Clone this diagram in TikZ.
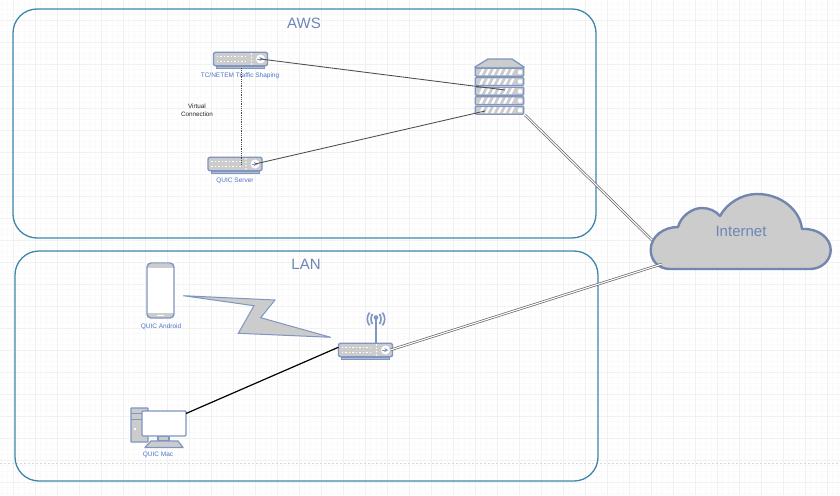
\documentclass[tikz,border=0pt]{standalone}
\usepackage{fontspec}
\setmainfont{Liberation Sans}
\definecolor{gridmajor}{HTML}{F1F1F1}
\definecolor{gridminor}{HTML}{FAFAFA}
\definecolor{boxline}{HTML}{3F86AC}
\definecolor{iconline}{HTML}{7F95C2}
\definecolor{iconfill}{HTML}{CCCCCC}
\definecolor{labelblue}{HTML}{4F74C8}
\definecolor{titleblue}{HTML}{6C86B8}
\tikzset{
    zonebox/.style={draw=boxline, line width=1.3pt, rounded corners=24pt},
    zonetitle/.style={text=titleblue, font=\fontsize{15}{15}\selectfont, inner sep=0pt},
    iconlabel/.style={text=labelblue, font=\fontsize{6.5}{6.5}\selectfont, inner sep=0pt},
    iconpart/.style={draw=iconline, fill=iconfill, line width=1.4pt, line join=round},
    switchbody/.style={iconpart, rectangle, rounded corners=2pt, minimum width=54pt, minimum height=13.5pt, inner sep=0pt},
    thinlink/.style={draw=black!70, line width=0.85pt},
    doublelink/.style={draw=black!60, line width=0.7pt, double=white, double distance=1.1pt}
}
% one rack switch: name, x, y of its centre
\newcommand{\switchbox}[3]{
    \fill[iconfill!70!iconline, draw=iconline, line width=0.8pt] (#2-24,#3+7) rectangle (#2+24,#3+9.5);
    \node[switchbody] (#1) at (#2,#3) {};
    \foreach \dotx in {-23,-19.5,...,8} {
        \fill[white] (#2+\dotx-0.9,#3-3.4) rectangle (#2+\dotx+0.9,#3-1.8);
        \fill[white] (#2+\dotx-0.9,#3+1.8) rectangle (#2+\dotx+0.9,#3+3.4);
    }
    \fill[white] (#2+11,#3-5) circle (0.8) (#2+11,#3-1.7) circle (0.8) (#2+11,#3+1.7) circle (0.8) (#2+11,#3+5) circle (0.8);
    \node[circle, fill=white, inner sep=0pt, minimum size=9pt] (#1port) at (#2+20,#3) {};
    \draw[iconline, line width=0.9pt, ->, >=stealth] (#2+16.5,#3) -- (#2+23,#3);
}
\begin{document}
\begin{tikzpicture}[x=1pt,y=-1pt]
    \useasboundingbox (0,0) rectangle (840,495);
    \fill[white] (0,0) rectangle (840,495);

    % paper grid
    \foreach \gx in {2,7.5,...,840} \draw[gridminor, line width=0.5pt] (\gx,0) -- (\gx,495);
    \foreach \gy in {3.5,9,...,495} \draw[gridminor, line width=0.5pt] (0,\gy) -- (840,\gy);
    \foreach \gx in {13.5,35.5,...,840} \draw[gridmajor, line width=0.7pt] (\gx,0) -- (\gx,495);
    \foreach \gy in {20,42,...,495} \draw[gridmajor, line width=0.7pt] (0,\gy) -- (840,\gy);
    \draw[black!15, line width=0.5pt, dash pattern=on 2pt off 2pt] (0,463.3) -- (840,463.3);

    % zones
    \node[zonebox, rectangle, minimum width=583pt, minimum height=229pt, inner sep=0pt] (aws) at (304.5,123.5) {};
    \node[zonebox, rectangle, minimum width=583pt, minimum height=230pt, inner sep=0pt] (lan) at (306.5,366) {};
    \node[zonetitle] (awstitle) at (304,23) {AWS};
    \node[zonetitle] (lantitle) at (306,264) {LAN};

    % traffic shaper and quic server
    \switchbox{shaper}{240.5}{59}
    \switchbox{quicserver}{235}{164}
    \node[iconlabel] (shaperlabel) at (240,76) {TC/NETEM Traffic Shaping};
    \node[iconlabel] (quicserverlabel) at (235,181) {QUIC Server};
    \node[iconlabel, text=black!85, align=center, font=\fontsize{6.3}{8}\selectfont] (virtuallabel) at (197,110) {Virtual\\Connection};

    % server rack
    \fill[iconfill, draw=iconline, line width=1.3pt, line join=round] (488,59) -- (512,59) -- (524,67) -- (524,68) -- (475,68) -- (475,67) -- cycle;
    \foreach \rowname/\rowy in {rowa/72.2,rowb/81.5,rowc/91.2,rowd/100.7,rowe/110.2} {
        \node[iconpart, rectangle, rounded corners=1pt, minimum width=48.5pt, minimum height=8pt, inner sep=0pt] (\rowname) at (499.5,\rowy) {};
        \foreach \sx in {479,485,...,509}
            \fill[white] (\sx,\rowy+3) -- (\sx+2.5,\rowy+3) -- (\sx+5.5,\rowy-3) -- (\sx+3,\rowy-3) -- cycle;
        \fill[white] (520,\rowy) circle (2.2);
    }
    \coordinate (rackupper) at (505,90);
    \coordinate (racklower) at (485,111);
    \coordinate (rackcorner) at (525,115);

    % cloud
    \draw[fill=iconfill, draw=iconline!90!black, line width=2.4pt, line join=round] (670,269) .. controls (658,269) and (650.7,260) .. (650.7,250) .. controls (650.7,236) and (664,227) .. (678,227) .. controls (681,216) and (692,208) .. (702,208) .. controls (709,208) and (716,211) .. (720,216) .. controls (727,203) and (742,194) .. (757,194) .. controls (781,194) and (800,210) .. (802,229) .. controls (818,228) and (830.7,238) .. (830.7,250) .. controls (830.7,261) and (821,269) .. (810,269) -- cycle;
    \node[zonetitle] (internet) at (741,231) {Internet};
    \coordinate (cloudleft) at (652,240);
    \coordinate (cloudbottom) at (662,264);

    % phone
    \fill[white, rounded corners=4pt] (147,263) rectangle (174,318);
    \fill[iconfill] (147.5,263.5) rectangle (173.5,268);
    \fill[iconfill] (147.5,313) rectangle (173.5,317.5);
    \fill[white] (157,314.5) rectangle (164,316);
    \fill[white] (146,262) -- (150,262) -- (146,266) -- cycle (175,262) -- (171,262) -- (175,266) -- cycle;
    \fill[white] (146,319) -- (150,319) -- (146,315) -- cycle (175,319) -- (171,319) -- (175,315) -- cycle;
    \node[iconpart, fill=none, rectangle, rounded corners=4pt, minimum width=27pt, minimum height=55pt, inner sep=0pt] (phone) at (160.5,290.5) {};
    \node[iconlabel] (phonelabel) at (161,327) {QUIC Android};

    % radio link
    \fill[iconfill, draw=iconline, line width=1pt, line join=miter, miter limit=3] (183.3,295.7) -- (275,300) -- (260.7,317.7) -- (330.7,337.3) -- (238.3,333.3) -- (254,305.7) -- cycle;

    % router
    \draw[iconline, line width=2pt] (376,318) -- (376,343);
    \fill[iconline] (376,317.5) circle (2.3);
    \draw[iconline, line width=1.6pt] (372.5,314) .. controls (370.5,316.5) and (370.5,321.5) .. (372.5,324) (379.5,314) .. controls (381.5,316.5) and (381.5,321.5) .. (379.5,324);
    \draw[iconline, line width=1.6pt] (369.6,312.6) .. controls (366.5,316) and (366.5,322) .. (369.6,325.4) (382.4,312.6) .. controls (385.5,316) and (385.5,322) .. (382.4,325.4);
    \switchbox{router}{365.5}{350}
    \node[circle, inner sep=0pt, minimum size=1pt] (routerleft) at (339,347) {};

    % mac
    \node[iconpart, rectangle, rounded corners=0.5pt, minimum width=17pt, minimum height=34pt, inner sep=0pt] (tower) at (139.5,425) {};
    \draw[iconline, line width=1pt] (131,413) -- (148,413) (131,419) -- (148,419);
    \fill[white] (134,428) rectangle (135.5,429.5);
    \fill[iconfill, draw=iconline, line width=1.2pt] (158,436) rectangle (169,441);
    \fill[iconfill, draw=iconline, line width=1.2pt, line join=round] (151,441) -- (178,441) -- (183,447.5) -- (145,447.5) -- cycle;
    \node[iconpart, fill=white, rectangle, rounded corners=1pt, minimum width=44pt, minimum height=25pt, inner sep=0pt] (monitor) at (164,423.5) {};
    \coordinate (monitorcorner) at (186,413.5);
    \node[iconlabel] (maclabel) at (158,455) {QUIC Mac};

    % links
    \draw[thinlink] (shaperport.center) -- (rackupper);
    \draw[thinlink] (quicserverport.center) -- (racklower);
    \draw[thinlink, dash pattern=on 1pt off 0.8pt] (shaper.south) ++(0.5,2) -- (241,165);
    \draw[doublelink] (rackcorner) -- (cloudleft);
    \draw[doublelink] (routerport.east) -- (cloudbottom);
    \draw[black, line width=1.2pt] (monitorcorner) -- (routerleft);
\end{tikzpicture}
\end{document}
